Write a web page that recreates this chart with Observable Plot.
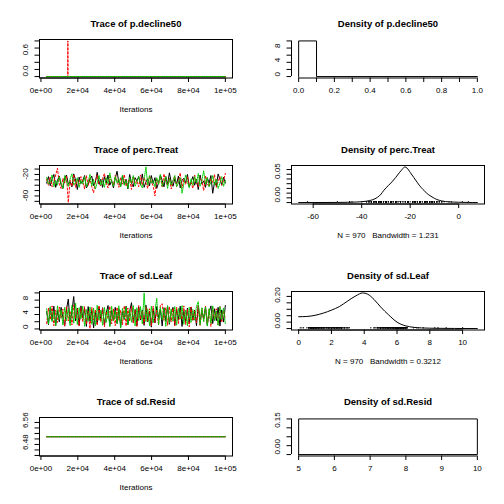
<!DOCTYPE html>
<html><head><meta charset="utf-8">
<script src="https://cdn.jsdelivr.net/npm/d3@7"></script>
<script src="https://cdn.jsdelivr.net/npm/@observablehq/plot@0.6"></script>
<style>
body{margin:0;background:#fff;}
#grid{display:grid;grid-template-columns:252px 252px;grid-template-rows:repeat(4,126px);width:504px;height:504px;background:#fff;}
#grid svg{display:block;}
</style></head><body><div id="grid"></div>
<script>
// ---------- DATA ----------
const chainColors = ["#000000", "#FF0000", "#00CD00"];
const chainDash = [undefined, "2,2", "1,1"];
const iterStart = 3100, iterEnd = 100000;

// p.decline50 trace (iteration, value) per chain
const pDecIterBlack = [3100, 100000], pDecValBlack = [0, 0];
const pDecIterRed = [3100, 14500, 14600, 14700, 100000], pDecValRed = [0, 0, 1, 0, 0];
const pDecIterGreen = [3100, 100000], pDecValGreen = [0, 0];

// perc.Treat trace (thinned, evenly spaced over iterations)
const percTreatBlack = [
-26,-14,-31,-19,-10,-34,-21,-13,-29,-36,
-17,-11,-28,-24,-33,-9,-20,-38,-15,-27,
-22,-12,-35,-29,-18,-13,-31,-24,-6,-28,
-19,-34,-14,-26,-11,-30,-21,-35,-17,-4,
-25,-32,-13,-28,-19,-37,-10,-26,-33,-16,
-22,-14,-30,-9,-34,-24,-18,-31,-12,-27,
-16,-36,-25,-11,-21,-33,-14,-29,-7,-24,
-32,-18,-28,-13,-35,-21,-17,-26,-10,-33,
-24,-14,-30,-19,-38,-11,-28,-22,-34,-16,
-26,-12,-45,-24,-31,-9,-19,-30,-15,-26];
const percTreatRed = [
-19,-30,-14,-33,-24,-11,1.5,-28,-36,-17,
-26,-13,-62.3,-21,-32,-10,-34,-19,-28,-14,
-24,-37,-12,-30,-17,-33,-44,-22,-11,-28,
-31,-18,-8,-26,-35,-14,-23,-30,-12,-21,
-34,-16,-28,-10,-32,-24,-19,-38,-13,-27,
-21,-33,-11,-30,-16,-26,-36,-12,-24,-31,
-50,-18,-28,-14,-33,-9,-24,-30,-17,-37,
-21,-13,-32,-26,-7,-35,-19,-28,-14,-30,
-24,-36,-11,-26,-33,-16,-21,-40,-12,-28,
-32,-18,-26,-10,-34,-23,-14,-30,-21,-8];
const percTreatGreen = [
-16,-28,-24,-11,-33,-21,-30,-14,-26,-36,
-12,-24,-32,-18,-9,-30,-26,-16,-34,-21,
-28,-14,-33,-24,-10,-31,-19,-37,-26,-12,
-30,-21,-34,-16,-28,-7,-24,-32,-14,-26,
-18,-33,-11,-30,-21,-36,-16,-26,-12,-32,
-24,-14,-28,-35,-19,4.0,-30,-12,-26,-21,
-33,-16,-28,-10,-32,-24,-14,-36,-18,-30,
-21,-12,-33,-26,-16,-45,-28,-11,-24,-35,
-18,-30,-14,-26,-8,-32,-21,-3,-28,-16,
-33,-24,-12,-30,-19,-36,-26,-14,-32,-21];

// sd.Leaf trace
const sdLeafBlack = [
4.8,1.2,5.9,2.4,6.3,0.9,5.1,2.0,6.0,3.1,
0.8,5.5,8.3,1.6,4.9,9.0,2.2,5.8,1.0,6.4,
3.0,5.7,0.7,6.2,2.1,5.3,0.3,4.6,1.4,6.1,
2.6,5.9,1.1,4.4,6.5,0.9,5.2,2.3,6.0,1.5,
5.6,0.6,4.8,2.7,6.3,1.2,5.0,7.3,1.8,5.4,
0.9,6.1,2.5,5.3,1.0,6.6,2.0,4.9,0.5,5.7,
1.7,6.2,3.0,5.4,0.8,5.9,2.2,6.4,1.3,4.7,
6.0,1.1,5.5,2.6,6.3,0.7,4.9,2.0,5.8,1.4,
6.1,2.4,5.2,0.9,6.6,1.8,5.0,2.9,6.2,1.0,
4.6,6.4,1.5,5.6,2.3,6.0,0.8,5.3,1.9,6.5];
const sdLeafRed = [
1.5,5.8,2.6,6.4,0.9,5.2,1.8,6.1,3.0,5.5,
0.7,6.3,2.2,4.9,1.1,6.6,2.9,5.6,0.8,5.9,
2.0,6.2,1.3,5.0,0.1,6.0,2.5,5.4,1.0,6.5,
1.9,5.7,0.6,4.8,2.8,6.3,1.4,5.5,0.9,6.0,
2.4,5.1,1.2,6.4,0.8,5.8,2.1,6.2,1.6,5.3,
0.7,6.5,2.7,5.0,1.3,6.1,2.2,5.6,0.9,6.3,
1.8,5.4,1.1,6.6,7.0,2.4,5.9,1.0,6.2,2.0,
5.7,0.8,6.0,1.5,5.2,2.6,6.4,1.2,5.5,0.6,
6.1,2.3,5.0,1.7,6.5,0.9,5.8,2.1,6.3,1.4,
5.4,0.7,6.0,2.5,5.6,1.1,6.2,1.9,5.1,2.8];
const sdLeafGreen = [
5.6,1.4,6.2,2.0,5.0,0.8,6.4,2.6,5.3,1.1,
6.0,2.3,5.7,0.9,6.5,1.6,7.2,1.2,5.9,2.8,
6.3,0.7,5.4,2.1,6.1,1.3,5.8,0.9,6.6,2.4,
5.2,1.0,6.0,1.8,5.5,0.6,6.3,2.2,5.1,1.5,
6.4,0.2,5.7,2.6,6.1,1.1,5.3,1.9,6.5,0.8,
5.9,2.3,6.2,1.4,10.0,2.0,5.6,0.9,6.3,1.7,
5.0,8.5,1.2,6.0,2.5,5.8,0.7,6.4,1.6,5.5,
2.1,6.2,1.0,5.7,2.7,6.5,1.3,5.2,0.9,6.0,
1.8,5.4,2.4,6.3,7.6,1.1,5.9,2.0,6.1,0.8,
5.6,1.5,6.4,2.2,5.0,1.0,6.2,2.6,5.8,1.3];

// sd.Resid trace (constant)
const sdResidIter = [3100, 100000], sdResidVal = [6.528, 6.528];

// densities
const pDecDensX = [0, 0, 0.1, 0.1, 1.0];
const pDecDensY = [0, 10, 10, 0, 0];
const percDensX = [-66,-50,-42,-38,-35.5,-33.5,-32,-31,-30,-29,-27.5,-26,-24.5,-23.2,-22.3,-21.3,-20,-18.5,-17,-15.5,-14,-12.5,-11,-9,-7,-4,0,4,7.7];
const percDensY = [0,0.0003,0.0012,0.003,0.006,0.011,0.018,0.025,0.031,0.036,0.044,0.053,0.063,0.071,0.0755,0.073,0.064,0.053,0.042,0.032,0.024,0.017,0.012,0.0065,0.0035,0.0015,0.0007,0.0002,0];
const leafDensX = [0,0.5,1.0,1.5,2.0,2.5,3.0,3.5,3.9,4.2,4.6,5.0,5.5,6.0,6.5,7.0,7.5,8.5,9.5,10.9];
const leafDensY = [0.092,0.094,0.103,0.12,0.143,0.172,0.215,0.255,0.277,0.268,0.226,0.168,0.105,0.05,0.022,0.01,0.005,0.002,0.001,0];
const residDensX = [5, 5, 10, 10, 5];
const residDensY = [0, 0.2, 0.2, 0, 0];

const titles = ["Trace of p.decline50","Density of p.decline50","Trace of perc.Treat","Density of perc.Treat","Trace of sd.Leaf","Density of sd.Leaf","Trace of sd.Resid","Density of sd.Resid"];
const densNotes = {perc: "N = 970\u00a0\u00a0\u00a0Bandwidth = 1.231", leaf: "N = 970\u00a0\u00a0\u00a0Bandwidth = 0.3212"};
const iterTicks = [0, 20000, 40000, 60000, 80000, 100000];

// ---------- HELPERS ----------
const FONT = "'Liberation Sans', Arial, Helvetica, sans-serif";
const pad = ([a, b]) => { const r = b - a; return [a - 0.04 * r, b + 0.04 * r]; };
const seq = (a, b, s) => { const o = []; for (let v = a; v <= b + s * 1e-6; v += s) o.push(+v.toFixed(6)); return o; };
const expFmt = d => { if (d === 0) return "0e+00"; const e = Math.floor(Math.log10(d)); return `${Math.round(d / 10 ** e)}e+${String(e).padStart(2, "0")}`; };
const chainSeries = vals => vals.map((v, i) => ({iter: iterStart + i * (iterEnd - iterStart) / (vals.length - 1), v}));
const pairSeries = (xs, ys) => xs.map((x, i) => ({iter: x, v: ys[i]}));

function panel({title, xDom, yDom, xTicks, xLab, xFmt, yTicks, yLab, yFmt, box, xlab, marks}) {
  const m = [];
  if (box) m.push(Plot.frame({stroke: "#000", strokeWidth: 1}));
  m.push(...marks);
  m.push(Plot.ruleY([yDom[0]], {x1: xTicks[0], x2: xTicks[xTicks.length - 1], stroke: "#000"}));
  m.push(Plot.ruleX([xDom[0]], {y1: yTicks[0], y2: yTicks[yTicks.length - 1], stroke: "#000"}));
  m.push(Plot.axisX({ticks: xTicks, tickSize: 4.5, tickFormat: () => "", label: null}));
  m.push(Plot.axisY({ticks: yTicks, tickSize: 4.5, tickFormat: () => "", label: null}));
  m.push(Plot.text(xLab, {x: d => d, frameAnchor: "bottom", dy: 15.2, text: xFmt, fontSize: 8}));
  m.push(Plot.text(yLab, {y: d => d, frameAnchor: "left", dx: -14, rotate: -90, text: yFmt, fontSize: 8}));
  m.push(Plot.text([title], {frameAnchor: "top", dy: -19, text: d => d, fontSize: 9.5, fontWeight: "bold"}));
  if (xlab) m.push(Plot.text([xlab], {frameAnchor: "bottom", dy: 33.5, text: d => d, fontSize: 8}));
  return Plot.plot({
    width: 252, height: 126,
    marginLeft: 39, marginRight: 20, marginTop: 39, marginBottom: 48.5,
    x: {type: "linear", domain: xDom},
    y: {type: "linear", domain: yDom},
    style: {fontFamily: FONT, fontSize: "8px", background: "#fff", overflow: "visible", color: "#000"},
    marks: m
  });
}

function traceLines(series) {
  return series.map((s, k) => Plot.line(s, {x: "iter", y: "v", stroke: chainColors[k], strokeWidth: 1, strokeDasharray: chainDash[k]}));
}
function rug(values, ymax) {
  return Plot.ruleX(values, {x: d => d, y1: -ymax * 0.01, y2: ymax * 0.03, stroke: "#000", strokeWidth: 1.1, strokeOpacity: 0.8});
}

const grid = document.getElementById("grid");
const iterDom = pad([iterStart, iterEnd]);

// 1 Trace p.decline50
grid.append(panel({
  title: titles[0], xDom: iterDom, yDom: pad([0, 1]),
  xTicks: iterTicks, xLab: iterTicks, xFmt: expFmt,
  yTicks: seq(0, 1, 0.2), yLab: [0, 0.6], yFmt: d => d.toFixed(1),
  box: true, xlab: "Iterations",
  marks: traceLines([pairSeries(pDecIterBlack, pDecValBlack), pairSeries(pDecIterRed, pDecValRed), pairSeries(pDecIterGreen, pDecValGreen)])
}));

// 2 Density p.decline50
grid.append(panel({
  title: titles[1], xDom: pad([0, 1]), yDom: pad([0, 10]),
  xTicks: seq(0, 1, 0.1), xLab: seq(0, 1, 0.2), xFmt: d => d.toFixed(1),
  yTicks: seq(0, 10, 2), yLab: [0, 4, 8], yFmt: d => String(d),
  box: false,
  marks: [Plot.line(pairSeries(pDecDensX, pDecDensY), {x: "iter", y: "v", stroke: "#000", strokeWidth: 1})]
}));

// 3 Trace perc.Treat
const percAll = [...percTreatBlack, ...percTreatRed, ...percTreatGreen];
grid.append(panel({
  title: titles[2], xDom: iterDom, yDom: pad(d3.extent(percAll)),
  xTicks: iterTicks, xLab: iterTicks, xFmt: expFmt,
  yTicks: seq(-60, 0, 10), yLab: [-60, -20], yFmt: d => String(d),
  box: true, xlab: "Iterations",
  marks: traceLines([chainSeries(percTreatBlack), chainSeries(percTreatRed), chainSeries(percTreatGreen)])
}));

// 4 Density perc.Treat (rug = the sampled values)
grid.append(panel({
  title: titles[3], xDom: pad(d3.extent(percDensX)), yDom: pad([0, d3.max(percDensY)]),
  xTicks: [-60, -40, -20, 0], xLab: [-60, -40, -20, 0], xFmt: d => String(d),
  yTicks: seq(0, 0.07, 0.01), yLab: [0, 0.05], yFmt: d => d.toFixed(2),
  box: true, xlab: densNotes.perc,
  marks: [
    rug(percAll, d3.max(percDensY)),
    Plot.line(pairSeries(percDensX, percDensY), {x: "iter", y: "v", stroke: "#000", strokeWidth: 1, curve: "monotone-x"})
  ]
}));

// 5 Trace sd.Leaf
const leafAll = [...sdLeafBlack, ...sdLeafRed, ...sdLeafGreen];
grid.append(panel({
  title: titles[4], xDom: iterDom, yDom: pad(d3.extent(leafAll)),
  xTicks: iterTicks, xLab: iterTicks, xFmt: expFmt,
  yTicks: seq(0, 10, 2), yLab: [0, 4, 8], yFmt: d => String(d),
  box: true, xlab: "Iterations",
  marks: traceLines([chainSeries(sdLeafBlack), chainSeries(sdLeafRed), chainSeries(sdLeafGreen)])
}));

// 6 Density sd.Leaf
grid.append(panel({
  title: titles[5], xDom: pad(d3.extent(leafDensX)), yDom: pad([0, d3.max(leafDensY)]),
  xTicks: seq(0, 10, 2), xLab: seq(0, 10, 2), xFmt: d => String(d),
  yTicks: seq(0, 0.25, 0.05), yLab: [0, 0.2], yFmt: d => d.toFixed(2),
  box: true, xlab: densNotes.leaf,
  marks: [
    rug(leafAll, d3.max(leafDensY)),
    Plot.line(pairSeries(leafDensX, leafDensY), {x: "iter", y: "v", stroke: "#000", strokeWidth: 1, curve: "monotone-x"})
  ]
}));

// 7 Trace sd.Resid (constant chain: R widens the zero-width range)
grid.append(panel({
  title: titles[6], xDom: iterDom, yDom: [6.458, 6.598],
  xTicks: iterTicks, xLab: iterTicks, xFmt: expFmt,
  yTicks: seq(6.46, 6.58, 0.02), yLab: [6.48, 6.56], yFmt: d => d.toFixed(2),
  box: true, xlab: "Iterations",
  marks: traceLines([pairSeries(sdResidIter, sdResidVal), pairSeries(sdResidIter, sdResidVal), pairSeries(sdResidIter, sdResidVal)])
}));

// 8 Density sd.Resid
grid.append(panel({
  title: titles[7], xDom: pad([5, 10]), yDom: pad([0, 0.2]),
  xTicks: seq(5, 10, 1), xLab: seq(5, 10, 1), xFmt: d => String(d),
  yTicks: seq(0, 0.2, 0.05), yLab: [0, 0.15], yFmt: d => d.toFixed(2),
  box: false,
  marks: [Plot.line(pairSeries(residDensX, residDensY), {x: "iter", y: "v", stroke: "#000", strokeWidth: 1})]
}));
</script></body></html>
